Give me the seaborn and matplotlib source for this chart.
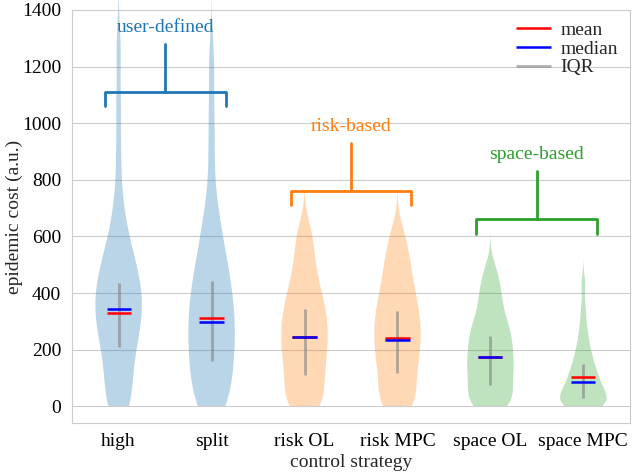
import matplotlib
matplotlib.use('Agg')

import numpy as np
import pandas as pd
import matplotlib.pyplot as plt
import seaborn as sns
from matplotlib.patches import Rectangle

strategies = ["high", "split", "risk OL", "risk MPC", "space OL", "space MPC"]

# cost samples (estimated quantiles)
cost_high = [0, 0, 16, 50, 82, 114, 145, 176, 204, 224, 244, 263, 283, 302, 318, 334,
             349, 365, 381, 397, 415, 433, 451, 469, 487, 509, 539, 569, 598, 657,
             730, 882, 1060, 1260]
cost_split = [0, 0, 13, 39, 66, 92, 114, 134, 155, 175, 195, 215, 234, 253, 272, 291,
              311, 331, 350, 370, 390, 412, 436, 460, 484, 511, 545, 578, 618, 670,
              742, 889, 1040, 1220]
cost_risk_ol = [0, 0, 10, 31, 52, 73, 94, 112, 130, 147, 165, 182, 200, 215, 231, 247,
                262, 278, 293, 310, 327, 345, 362, 380, 398, 424, 451, 479, 510, 550,
                590, 635]
cost_risk_mpc = [0, 0, 11, 34, 56, 78, 101, 119, 137, 155, 173, 191, 208, 223, 239, 255,
                 270, 286, 302, 319, 337, 354, 372, 390, 411, 435, 460, 486, 512, 542,
                 578, 625]
cost_space_ol = [0, 0, 7, 21, 34, 48, 62, 75, 89, 103, 115, 128, 140, 153, 165, 178,
                 190, 203, 217, 231, 245, 258, 272, 286, 300, 323, 346, 369, 393, 420,
                 450, 490]
cost_space_mpc = [0, 0, 0, 3, 7, 12, 17, 22, 28, 34, 40, 46, 53, 60, 67, 75, 83, 91,
                  100, 110, 120, 131, 143, 156, 170, 186, 205, 228, 256, 292, 345, 430]

mean_cost = [330, 312, 245, 242, 175, 103]
median_cost = [345, 298, 245, 235, 174, 85]
iqr_low = [210, 160, 110, 118, 75, 28]
iqr_high = [437, 444, 345, 338, 249, 149]

groups = ["user-defined", "risk-based", "space-based"]
group_members = [(0, 1), (2, 3), (4, 5)]
group_level = [1110, 760, 660]
group_colors = ["#1f77b4", "#ff7f0e", "#2ca02c"]

samples = [cost_high, cost_split, cost_risk_ol, cost_risk_mpc, cost_space_ol, cost_space_mpc]
df = pd.DataFrame({
    "strategy": np.repeat(strategies, [len(s) for s in samples]),
    "cost": np.concatenate(samples),
})

sns.set_style("whitegrid")
plt.rcParams['font.family'] = ['Liberation Serif', 'DejaVu Serif']
plt.rcParams['axes.edgecolor'] = '.8'
plt.rcParams['grid.color'] = '.8'

fig, ax = plt.subplots(figsize=(6.33, 4.75), dpi=100)
fig.subplots_adjust(left=0.114, right=0.995, top=0.979, bottom=0.109)

palette = {s: group_colors[i // 2] for i, s in enumerate(strategies)}
sns.violinplot(data=df, x="strategy", y="cost", hue="strategy", palette=palette,
               order=strategies, inner=None, cut=3, density_norm="width", width=0.5,
               bw_adjust=0.6, linewidth=0, saturation=1, legend=False, ax=ax)
# costs can't go below zero, cut the violins there
floor = Rectangle((-1, 0), 10, 5000, transform=ax.transData)
for coll in ax.collections:
    coll.set_alpha(0.3)
    coll.set_edgecolor('none')
    coll.set_clip_path(floor)

pos = np.arange(len(strategies))
ax.vlines(pos, iqr_low, iqr_high, color='gray', alpha=0.6, lw=2, label='IQR', zorder=3)
ax.hlines(mean_cost, pos - 0.13, pos + 0.13, color='red', lw=1.8, label='mean', zorder=4)
ax.hlines(median_cost, pos - 0.13, pos + 0.13, color='blue', lw=1.8, label='median', zorder=5)

for name, (a, b), h, c in zip(groups, group_members, group_level, group_colors):
    l, r = a - 0.15, b + 0.15
    m = (a + b) / 2
    ax.plot([l, l, r, r], [h - 50, h, h, h - 50], color=c, lw=2, zorder=3)
    ax.plot([m, m], [h, h + 170], color=c, lw=2, zorder=3)
    ax.text(m, h + 228, name, color=c, ha='center', va='center', fontsize=14)

handles, labels = ax.get_legend_handles_labels()
order = [labels.index(k) for k in ['mean', 'median', 'IQR']]
ax.legend([handles[i] for i in order], [labels[i] for i in order],
          loc='upper right', frameon=False, fontsize=14, handlelength=1.8,
          labelspacing=0.05, borderaxespad=0.2, handletextpad=0.5)

ax.set_ylim(-60, 1400)
ax.set_xlim(-0.5, 5.5)
ax.set_yticks(range(0, 1401, 200))
ax.tick_params(labelsize=14, colors='black', length=0)
ax.tick_params(axis='x', pad=7)
ax.tick_params(axis='y', pad=8)
ax.set_xlabel("control strategy", fontsize=14, labelpad=3)
ax.set_ylabel("epidemic cost (a.u.)", fontsize=14)
ax.yaxis.set_label_coords(-0.088, 0.5)

fig.savefig("out.png", dpi=100)
